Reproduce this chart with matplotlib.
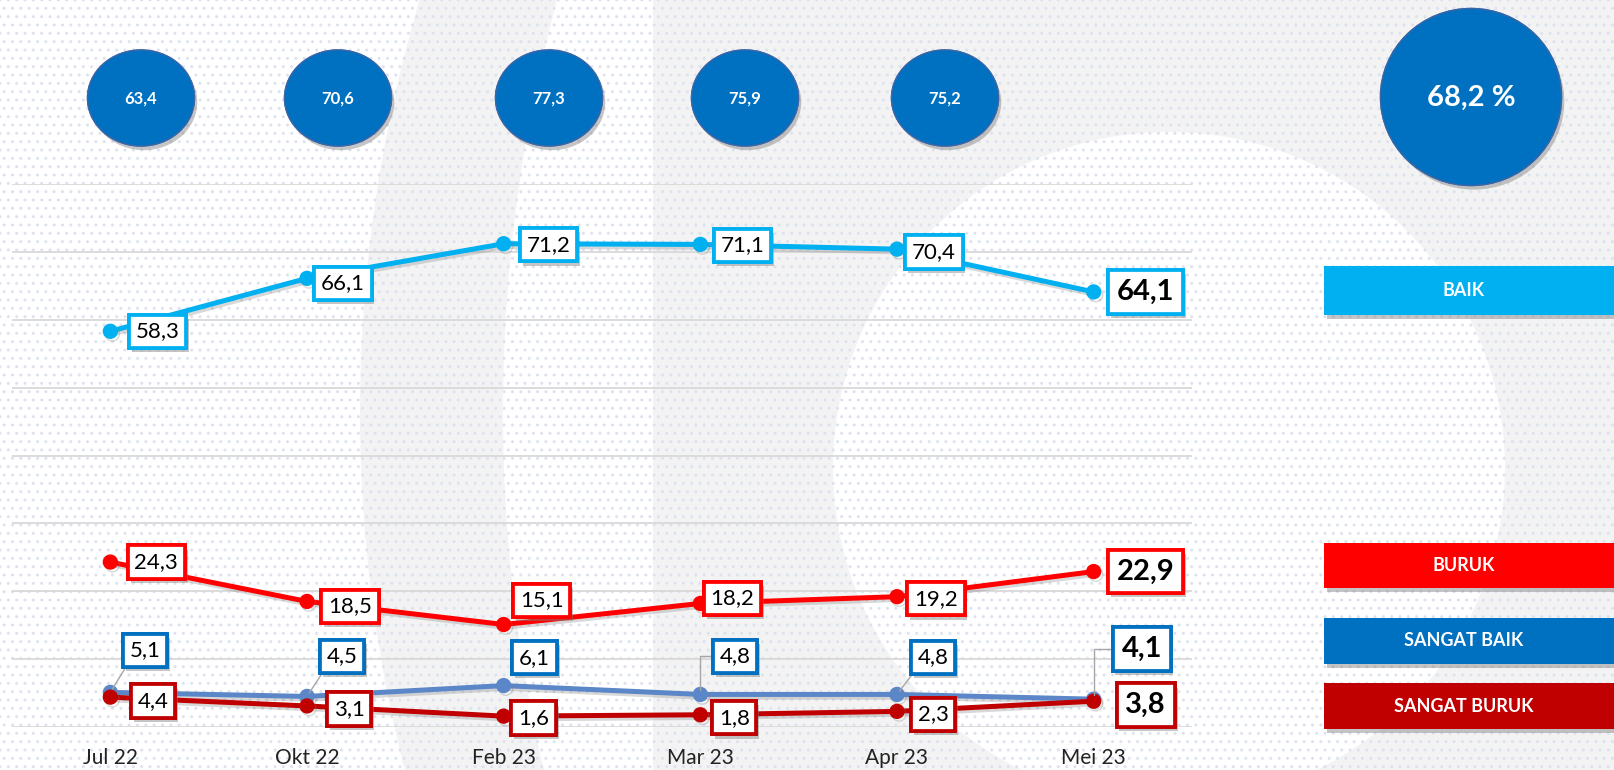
import matplotlib
matplotlib.use("Agg")
import matplotlib.pyplot as plt
import matplotlib.patheffects as pe
from matplotlib.patches import Circle, Ellipse, Rectangle

plt.rcParams['font.family'] = ['Lato', 'DejaVu Sans']

# Data
months = ['Jul 22', 'Okt 22', 'Feb 23', 'Mar 23', 'Apr 23', 'Mei 23']
baik = [58.3, 66.1, 71.2, 71.1, 70.4, 64.1]
buruk = [24.3, 18.5, 15.1, 18.2, 19.2, 22.9]
sangat_baik = [5.1, 4.5, 6.1, 4.8, 4.8, 4.1]
sangat_buruk = [4.4, 3.1, 1.6, 1.8, 2.3, 3.8]
series_names = ['BAIK', 'BURUK', 'SANGAT BAIK', 'SANGAT BURUK']
top_values = [63.4, 70.6, 77.3, 75.9, 75.2]
total_value = 68.2

# Styles
line_colors = ['#00B0F0', '#FF0000', '#5B86C8', '#C00000']
box_colors = ['#00B0F0', '#FF0000', '#0070C0', '#C00000']
dark_blue = '#0070C0'
gray_bg = '#F3F3F3'

# label offsets in pixels (dx, dy downwards) per series
label_offsets = [
    [(47, 0), (36, 5), (45, 1), (42, 1), (37, 3), (52, 0)],
    [(46, 0), (43, 5), (38, -24), (32, -5), (39, 2), (52, 0)],
    [(35, -42), (35, -40), (31, -28), (35, -38), (36, -37), (48, -50)],
    [(43, 4), (42, 3), (30, 2), (34, 3), (36, 3), (52, 4)],
]
leaders = [None, None, ['line', 'line', None, 'elbow', 'line', 'elbow'], None]


def fmt(v):
    return f"{v:.1f}".replace('.', ',')


W, H = 1615, 770
fig = plt.figure(figsize=(W / 100, H / 100), dpi=100)

# Background: watermark shapes and dot pattern, in pixel coordinates
bg = fig.add_axes([0, 0, 1, 1])
bg.set_xlim(0, W)
bg.set_ylim(H, 0)
bg.axis('off')
bg.add_patch(Circle((1815, 412), 1455, color=gray_bg, lw=0, zorder=1))
bg.add_patch(Circle((2100, 412), 1597, color='white', lw=0, zorder=2))
bg.add_patch(Rectangle((653, 0), W - 653, H, color=gray_bg, lw=0, zorder=3))
bg.add_patch(Circle((1169, 468), 336, color='white', lw=0, zorder=4))
bg.add_patch(Rectangle((0, 0), W, H, facecolor='none', edgecolor='#DDE3EE',
                       hatch='..', lw=0, zorder=5))

shadow = [pe.withSimplePatchShadow(offset=(2, -3), shadow_rgbFace='#808080', alpha=0.45), pe.Normal()]

# Circles with monthly index values
circle_x = [141, 338, 549, 745, 945]
for cx, val in zip(circle_x, top_values):
    e = Ellipse((cx, 98), 107, 96, facecolor=dark_blue, edgecolor='#3A66A8', lw=1, zorder=10)
    e.set_path_effects(shadow)
    bg.add_patch(e)
    bg.text(cx, 99, fmt(val), color='white', fontsize=12, fontweight='bold',
            ha='center', va='center', zorder=11)

big = Ellipse((1471, 97), 181, 177, facecolor=dark_blue, edgecolor='#3A66A8', lw=1, zorder=10)
big.set_path_effects(shadow)
bg.add_patch(big)
bg.text(1471, 98, fmt(total_value) + ' %', color='white', fontsize=21, fontweight='bold',
        ha='center', va='center', zorder=11)

# Legend boxes
legend_y = [(266, 49), (543, 45), (618, 46), (683, 46)]
for name, color, (y0, h) in zip(series_names, box_colors, legend_y):
    r = Rectangle((1324, y0), W - 1324, h, facecolor=color, lw=0, zorder=10)
    r.set_path_effects(shadow)
    bg.add_patch(r)
    bg.text(1464, y0 + h / 2, name, color='white', fontsize=13, fontweight='bold',
            ha='center', va='center', zorder=11)

# Main chart
ax = fig.add_axes([12 / W, (H - 727) / H, (1192 - 12) / W, (727 - 184) / H])
ax.set_facecolor('none')
ax.set_xlim(-0.5, 5.5)
ax.set_ylim(0, 80)
ax.set_yticks(range(0, 81, 10))
ax.yaxis.grid(True, color='#D9D9D9', lw=1.3)
ax.set_axisbelow(True)
ax.tick_params(axis='y', left=False, labelleft=False)
ax.set_xticks(range(len(months)))
ax.set_xticklabels(months, fontsize=15, color='#222222')
ax.tick_params(axis='x', length=0, pad=15)
for s in ax.spines.values():
    s.set_visible(False)

x = list(range(len(months)))
all_series = [baik, buruk, sangat_baik, sangat_buruk]
line_shadow = [pe.SimpleLineShadow(offset=(1.5, -2), shadow_color='#808080', alpha=0.3), pe.Normal()]
for k, (vals, color) in enumerate(zip(all_series, line_colors)):
    ax.plot(x, vals, color=color, lw=3.6, marker='o', markersize=10,
            solid_capstyle='round', zorder=3 + k, path_effects=line_shadow)

# Data labels
for k, vals in enumerate(all_series):
    for i, v in enumerate(vals):
        dx, dy = label_offsets[k][i]
        last = i == len(vals) - 1
        arrow = None
        if leaders[k] is not None and leaders[k][i] is not None:
            if leaders[k][i] == 'line':
                arrow = dict(arrowstyle='-', color='#A6A6A6', lw=1, relpos=(0, 0),
                             shrinkA=0, shrinkB=3)
            else:
                arrow = dict(arrowstyle='-', color='#A6A6A6', lw=1, relpos=(0, 0.5),
                             shrinkA=0, shrinkB=3,
                             connectionstyle='angle,angleA=0,angleB=90,rad=0')
        ann = ax.annotate(fmt(v), xy=(i, v), xytext=(dx, -dy), textcoords='offset pixels',
                          ha='center', va='center', fontsize=21 if last else 16,
                          fontweight='bold' if last else 'normal', color='black',
                          bbox=dict(boxstyle='square,pad=0.3', fc='white',
                                    ec=box_colors[k], lw=2.7),
                          arrowprops=arrow, zorder=10 + k)
        ann.get_bbox_patch().set_path_effects(shadow)

fig.savefig('out.png', dpi=100)
